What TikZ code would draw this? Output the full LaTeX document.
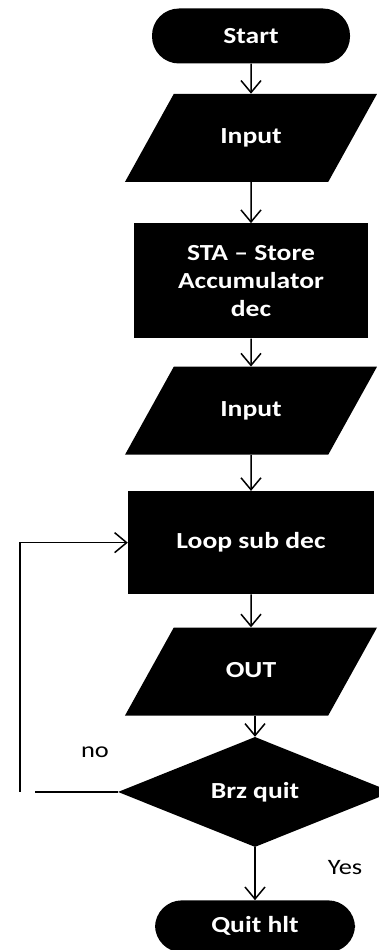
\documentclass[tikz,border=0pt]{standalone}
\usepackage{fontspec}
\setmainfont{Carlito}[FakeStretch=1.2]
\usetikzlibrary{arrows.meta,positioning,shapes.geometric}

\begin{document}
\begin{tikzpicture}[
  x=1pt, y=-1pt,
  font=\fontsize{23}{28}\selectfont\bfseries,
  termbox/.style={fill=black, text=white, rounded corners=27pt,
    minimum width=198pt, minimum height=55pt, inner sep=0pt},
  iobox/.style={trapezium, trapezium left angle=61, trapezium right angle=119,
    trapezium stretches body, fill=black, text=white,
    text height=16pt, text depth=5pt, inner xsep=0pt, inner ysep=33.5pt,
    minimum width=252pt},
  procbox/.style={fill=black, text=white, align=center,
    minimum width=234pt, minimum height=115pt, inner sep=0pt},
  decbox/.style={diamond, fill=black, text=white,
    minimum width=274pt, minimum height=110pt, inner sep=0pt},
  lbl/.style={font=\fontsize{22}{26}\selectfont\mdseries},
  flowline/.style={-{Straight Barb[length=12pt, width=20pt]}, line width=1.5pt},
  plainline/.style={line width=1.5pt},
]
  \useasboundingbox (0,0) rectangle (379,950);

  % main column
  \node[termbox] (start) at (251,36) {Start};
  \node[iobox, below=30pt of start] (in1) {Input};
  \node[procbox, below=41pt of in1] (sta) {STA -- Store\\Accumulator\\dec};
  \node[iobox, below=28pt of sta] (in2) {Input};
  \node[procbox, minimum width=246pt, minimum height=103pt,
    below=36pt of in2] (loop) {Loop sub dec};
  \node[iobox, below=33pt of loop] (out) {OUT};
  \node[decbox, below=21pt of out, xshift=4pt] (brz) {Brz quit};
  \node[termbox, minimum width=200pt, minimum height=52pt,
    below=53pt of brz] (quit) {Quit hlt};

  \draw[flowline] (start) -- (in1);
  \draw[flowline] (in1) -- (sta);
  \draw[flowline] (sta) -- (in2);
  \draw[flowline] (in2) -- (loop);
  \draw[flowline] (loop) -- (out);
  \draw[flowline] (brz.north |- out.south) -- (brz.north);
  \draw[flowline] (brz) -- (quit);

  % back edge
  \coordinate[left=83pt of brz.west] (noend);
  \coordinate[left=98pt of brz.west] (nocorner);
  \draw[plainline] (brz.west) -- (noend);
  \draw[flowline] (nocorner) |- (loop.west);

  \node[lbl] (nolbl) at (95,752) {no};
  \node[lbl] (yeslbl) at (345,868) {Yes};
\end{tikzpicture}
\end{document}
